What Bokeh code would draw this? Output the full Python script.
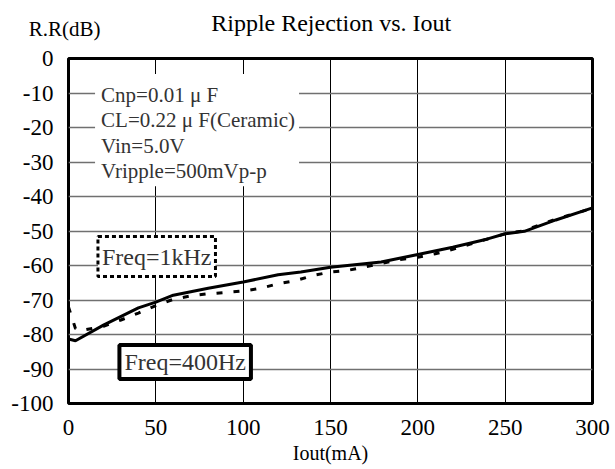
from bokeh.plotting import figure
from bokeh.models import Range1d, FixedTicker, Label
from bokeh.layouts import column
from bokeh.embed import file_html
from bokeh.resources import INLINE

# ---- data ----
iout_400hz = [0, 4, 20, 40, 50, 60, 80, 100, 120, 133, 150, 179, 200, 220, 240, 250, 261, 279, 300]
rr_400hz = [-81.3, -81.8, -77.3, -72.3, -70.6, -68.6, -66.6, -64.8, -62.7, -61.9, -60.5,
            -59.0, -56.8, -54.7, -52.3, -50.8, -50.1, -46.8, -43.3]

iout_1khz = [0, 4, 8, 20, 30, 40, 50, 60, 70, 80, 90, 100, 110, 120, 130, 140, 150, 160,
             170, 180, 190, 200, 210, 220, 230, 240, 250, 260, 279, 300]
rr_1khz = [-72.0, -78.3, -78.8, -77.6, -75.8, -73.8, -71.6, -69.8, -68.8, -68.2, -67.8,
           -67.4, -66.6, -65.3, -64.4, -62.9, -61.9, -61.4, -60.4, -59.3, -58.3, -57.6,
           -56.6, -55.3, -53.8, -52.3, -50.8, -50.0, -46.6, -43.4]

x_ticks = [0, 50, 100, 150, 200, 250, 300]
x_tick_labels = ["0", "50", "100", "150", "200", "250", "300"]
y_ticks = [0, -10, -20, -30, -40, -50, -60, -70, -80, -90, -100]
y_tick_labels = ["0", "-10", "-20", "-30", "-40", "-50", "-60", "-70", "-80", "-90", "-100"]

title_text = "Ripple Rejection vs. Iout"
y_label_text = "R.R(dB)"
x_label_text = "Iout(mA)"
cond_text = "Cnp=0.01 \u03bc F\nCL=0.22 \u03bc F(Ceramic)\nVin=5.0V\nVripple=500mVp-p"
freq1_text = "Freq=1kHz"
freq2_text = "Freq=400Hz"

FONT = "Liberation Serif"
W = 615
HEAD_H = 44
MAIN_H = 425

# ---- header: chart title and y-axis caption ----
head = figure(width=W, height=HEAD_H, x_range=Range1d(0, 300), y_range=Range1d(HEAD_H, 12),
              x_axis_type=None, output_backend="svg", toolbar_location=None,
              min_border_left=68, min_border_right=23, min_border_top=12, min_border_bottom=0)
head.outline_line_color = None
head.background_fill_color = "white"
head.border_fill_color = "white"
head.ygrid.visible = False
head.yaxis.ticker = FixedTicker(ticks=[])
head.yaxis.axis_line_color = None
head.yaxis.major_tick_line_color = None
head.yaxis.minor_tick_line_color = None
head.yaxis.major_tick_in = 0
head.yaxis.major_tick_out = 0
head.yaxis.minor_tick_out = 0
head.yaxis.axis_label = y_label_text
head.yaxis.axis_label_orientation = "horizontal"
head.yaxis.axis_label_standoff = -32
head.yaxis.axis_label_text_font = FONT
head.yaxis.axis_label_text_font_size = "21px"
head.yaxis.axis_label_text_font_style = "normal"
head.yaxis.axis_label_text_color = "black"
head.add_layout(Label(x=150.4, y=22.6, text=title_text, text_align="center",
                      text_baseline="alphabetic", text_font=FONT,
                      text_font_size="24px", text_color="black"))

# ---- main chart ----
p = figure(width=W, height=MAIN_H,
           x_range=Range1d(0, 300), y_range=Range1d(-100, 0),
           output_backend="svg", toolbar_location=None,
           min_border_left=68, min_border_right=23,
           min_border_top=14, min_border_bottom=66)

p.background_fill_color = "white"
p.border_fill_color = "white"
p.outline_line_color = "black"
p.outline_line_width = 3
p.outline_line_alpha = 1.0

p.xaxis.ticker = FixedTicker(ticks=x_ticks)
p.yaxis.ticker = FixedTicker(ticks=y_ticks)
p.xaxis.major_label_overrides = {t: s for t, s in zip(x_ticks, x_tick_labels)}
p.yaxis.major_label_overrides = {t: s for t, s in zip(y_ticks, y_tick_labels)}
for ax in (p.xaxis, p.yaxis):
    ax.axis_line_color = None
    ax.major_tick_line_color = None
    ax.minor_tick_line_color = None
    ax.major_tick_in = 0
    ax.major_tick_out = 0
    ax.major_label_text_font = FONT
    ax.major_label_text_font_size = "23px"
    ax.major_label_text_color = "black"
p.xaxis.major_label_standoff = 16
p.yaxis.major_label_standoff = 15

p.xaxis.axis_label = x_label_text
p.xaxis.axis_label_text_font = FONT
p.xaxis.axis_label_text_font_size = "20px"
p.xaxis.axis_label_text_font_style = "normal"
p.xaxis.axis_label_text_color = "black"
p.xaxis.axis_label_standoff = 4

p.xgrid.ticker = FixedTicker(ticks=x_ticks)
p.ygrid.ticker = FixedTicker(ticks=y_ticks)
p.xgrid.grid_line_color = "black"
p.xgrid.grid_line_width = 1
p.ygrid.grid_line_color = "#707070"
p.ygrid.grid_line_width = 1.5

p.line(iout_400hz, rr_400hz, line_color="black", line_width=3)
p.line(iout_1khz, rr_1khz, line_color="black", line_width=3, line_dash="6 11")

p.add_layout(Label(x=15.2, y=-4.5, text=cond_text, anchor="top_left",
                   text_font=FONT, text_font_size="21px", text_color="#333333",
                   text_line_height=1.06,
                   background_fill_color="white", padding=(6, 4, 9, 3)))

p.add_layout(Label(x=50.5, y=-57.4, text=freq1_text, anchor="center",
                   text_align="center", text_baseline="middle",
                   text_font=FONT, text_font_size="24px", text_color="#333333",
                   background_fill_color="white", border_line_color="black",
                   border_line_width=3, border_line_dash="4 3", padding=(4, 7)))

p.add_layout(Label(x=66.8, y=-88.0, text=freq2_text, anchor="center",
                   text_align="center", text_baseline="middle",
                   text_font=FONT, text_font_size="24px", text_color="#333333",
                   background_fill_color="white", border_line_color="black",
                   border_line_width=4, padding=(5, 4)))

layout = column(head, p, spacing=0)
open("out.html", "w").write(file_html(layout, INLINE))
